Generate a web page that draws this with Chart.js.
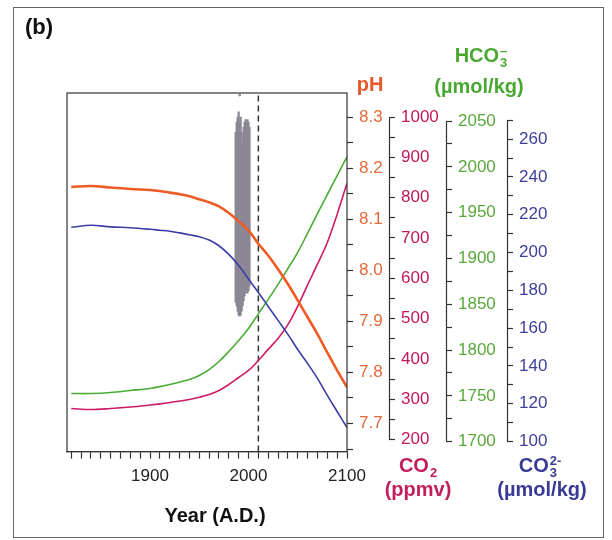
<!DOCTYPE html>
<html>
<head>
<meta charset="utf-8">
<script src="https://cdn.jsdelivr.net/npm/chart.js@4.4.1/dist/chart.umd.min.js"></script>
<style>
  body { margin: 0; background: #fff; }
  #wrap { position: relative; width: 612px; height: 540px; font-family: 'Liberation Sans', Arial, Helvetica, sans-serif; }
  #frame { position: absolute; left: 13px; top: 7px; width: 591px; height: 531px; border: 1px solid #666; box-sizing: border-box; }
  canvas { position: absolute; left: 0; top: 0; }
  .lbl { position: absolute; transform: translate(-50%, -50%); font-weight: bold; font-size: 20px; white-space: nowrap; line-height: 1; }
  .stack { display: inline-block; vertical-align: -5px; font-size: 13px; line-height: 12px; text-align: left; margin-left: 1px; }
  .stack span { display: block; }
</style>
</head>
<body>
<div id="wrap">
  <div id="frame"></div>
  <canvas id="chart" width="612" height="540"></canvas>
  <div class="lbl" style="left:39px; top:27px; font-size:22px; color:#111;">(b)</div>
  <div class="lbl" style="left:370px; top:84px; color:#e4582a;">pH</div>
  <div class="lbl" style="left:481px; top:57px; color:#4aa832;">HCO<span class="stack"><span>&#8211;</span><span>3</span></span></div>
  <div class="lbl" style="left:479px; top:86px; color:#4aa832;">(µmol/kg)</div>
  <div class="lbl" style="left:418px; top:467px; color:#c41d5c;">CO<span class="stack"><span>&nbsp;</span><span>2</span></span></div>
  <div class="lbl" style="left:418px; top:489px; color:#c41d5c;">(ppmv)</div>
  <div class="lbl" style="left:540px; top:467px; color:#393b96;">CO<span class="stack"><span>2-</span><span>3</span></span></div>
  <div class="lbl" style="left:542px; top:489px; color:#393b96;">(µmol/kg)</div>
  <div class="lbl" style="left:215px; top:515px; color:#111;">Year (A.D.)</div>
</div>
<script>
// Modelled surface-ocean carbonate chemistry
const years = [1820, 1840, 1860, 1880, 1900, 1910, 1920, 1930, 1940, 1950, 1960, 1970, 1980, 1990, 2000, 2010, 2020, 2030, 2040, 2050, 2060, 2070, 2080, 2090, 2100];
const pH   = [8.163, 8.165, 8.162, 8.159, 8.157, 8.155, 8.152, 8.149, 8.145, 8.139, 8.133, 8.125, 8.112, 8.096, 8.078, 8.052, 8.029, 8.002, 7.973, 7.941, 7.908, 7.875, 7.839, 7.804, 7.771];
const co2  = [277, 274.5, 277, 280.7, 285.7, 288.5, 292, 295.5, 299.4, 305, 311.8, 321.7, 336.6, 354, 371.4, 396, 423.8, 451, 485, 531, 583.6, 635, 689, 759, 836];
const hco3 = [1752.5, 1752.5, 1753.6, 1755.8, 1758, 1760, 1762.3, 1765, 1767.8, 1772.2, 1778.7, 1787.5, 1798.4, 1810.5, 1823.6, 1839.5, 1855.3, 1871.7, 1889, 1906.7, 1927.5, 1948.8, 1969.6, 1990.4, 2011];
const co3  = [213.4, 214.4, 213.6, 213.1, 212.3, 211.8, 211.3, 210.4, 209.4, 208.4, 206.6, 203.6, 199.0, 193.2, 186.0, 178.9, 171.5, 164.1, 156.7, 148.7, 141.3, 133.4, 124.4, 115.9, 107.4];

// Measured pH spread (grey band)
const obsYears = [1987, 1988, 1989, 1990, 1991, 1992, 1993, 1994, 1995, 1996, 1997, 1998, 1999, 2000, 2001];
const obsLow   = [7.937, 7.93, 7.92, 7.912, 7.91, 7.912, 7.92, 7.93, 7.94, 7.95, 7.955, 7.96, 7.955, 7.96, 7.97];
const obsHigh  = [8.27, 8.29, 8.30, 8.31, 8.29, 8.30, 8.27, 8.25, 8.28, 8.29, 8.295, 8.29, 8.295, 8.29, 8.28];
const obsOutlierYear = 1991;
const obsOutlierPH = 8.343;

const presentYear = 2010;

// axis ranges: [min, max] of the plot box, and the span that carries ticks
const X_MIN = 1815.7, X_MAX = 2100;
const PH_MIN = 7.645, PH_MAX = 8.347, PH_TICKS = [7.65, 8.3];
const CO2_MIN = 170.2, CO2_MAX = 1059.6, CO2_TICKS = [200, 1000];
const HCO3_MIN = 1689.1, HCO3_MAX = 2080.6, HCO3_TICKS = [1700, 2050];
const CO3_MIN = 94.7, CO3_MAX = 284.4, CO3_TICKS = [100, 270];

const FONT = "'Liberation Sans', Arial, Helvetica, sans-serif";
const tickFont = { family: FONT, size: 17 };

const series = vals => years.map((x, i) => ({ x, y: vals[i] }));

function sideAxis(min, max, span, step, every, decimals, color, width) {
    return {
        type: 'linear',
        position: 'right',
        min: min,
        max: max,
        afterBuildTicks: s => {
            s.ticks = s.ticks.filter(t => t.value >= span[0] - 1e-6 && t.value <= span[1] + 1e-6);
        },
        afterFit: s => { s.width = width; },
        border: { display: false },
        grid: { drawOnChartArea: false, drawTicks: true, tickLength: 6, tickColor: '#333', tickWidth: 1.2 },
        ticks: {
            stepSize: step,
            autoSkip: false,
            includeBounds: false,
            padding: 6,
            color: color,
            font: tickFont,
            callback: v => {
                const r = v / every;
                return Math.abs(r - Math.round(r)) < 1e-6 ? v.toFixed(decimals) : '';
            }
        }
    };
}

// box round the plot and the detached axis spines
const framePlugin = {
    id: 'frame',
    afterDraw(chart) {
        const { ctx, chartArea: a } = chart;
        ctx.save();
        ctx.strokeStyle = '#333';
        ctx.lineWidth = 1.2;
        ctx.strokeRect(a.left, a.top, a.right - a.left, a.bottom - a.top);
        ['co2', 'hco3', 'co3'].forEach(id => {
            const s = chart.scales[id];
            const t = s.ticks;
            const x = Math.round(s.left) + 0.5;
            ctx.beginPath();
            ctx.moveTo(x, s.getPixelForValue(t[0].value));
            ctx.lineTo(x, s.getPixelForValue(t[t.length - 1].value));
            ctx.stroke();
        });
        ctx.restore();
    }
};

const ctx = document.getElementById('chart').getContext('2d');

new Chart(ctx, {
    type: 'line',
    data: {
        datasets: [
            {
                label: 'pH',
                data: series(pH),
                yAxisID: 'ph',
                borderColor: '#ee5b25',
                borderWidth: 2.6,
                pointRadius: 0,
                tension: 0.35,
                order: 1
            },
            {
                label: 'CO3',
                data: series(co3),
                yAxisID: 'co3',
                borderColor: '#3a3da6',
                borderWidth: 1.6,
                pointRadius: 0,
                tension: 0.35,
                order: 1
            },
            {
                label: 'HCO3',
                data: series(hco3),
                yAxisID: 'hco3',
                borderColor: '#4aac36',
                borderWidth: 1.6,
                pointRadius: 0,
                tension: 0.35,
                order: 1
            },
            {
                label: 'CO2',
                data: series(co2),
                yAxisID: 'co2',
                borderColor: '#cd1b66',
                borderWidth: 1.6,
                pointRadius: 0,
                tension: 0.35,
                order: 1
            },
            {
                type: 'bar',
                label: 'observed pH',
                data: obsYears.map((x, i) => ({ x, y: [obsLow[i], obsHigh[i]] })),
                yAxisID: 'ph',
                backgroundColor: '#8b8794',
                barThickness: 1.6,
                grouped: false,
                order: 5
            },
            {
                label: 'observed pH outlier',
                data: [{ x: obsOutlierYear, y: obsOutlierPH }],
                yAxisID: 'ph',
                showLine: false,
                pointRadius: 1.4,
                pointBackgroundColor: '#8b8794',
                pointBorderWidth: 0,
                order: 5
            },
            {
                label: 'present',
                data: [{ x: presentYear, y: PH_MIN }, { x: presentYear, y: PH_MAX }],
                yAxisID: 'ph',
                borderColor: '#333',
                borderWidth: 1.5,
                borderDash: [6, 4],
                pointRadius: 0,
                order: 2
            }
        ]
    },
    options: {
        responsive: false,
        animation: false,
        layout: {
            padding: { left: 67, top: 93, right: 43, bottom: 45 }
        },
        plugins: {
            legend: { display: false },
            tooltip: { enabled: false }
        },
        scales: {
            x: {
                type: 'linear',
                position: 'bottom',
                min: X_MIN,
                max: X_MAX,
                offset: false,
                border: { display: true, color: '#333', width: 1.2 },
                grid: { offset: false, drawOnChartArea: false, tickLength: 7, tickColor: '#333', tickWidth: 1.2 },
                ticks: {
                    stepSize: 10,
                    autoSkip: false,
                    includeBounds: false,
                    maxRotation: 0,
                    padding: 8,
                    color: '#222',
                    font: tickFont,
                    callback: v => (Math.round(v) % 100 === 0 ? String(Math.round(v)) : '')
                }
            },
            ph:   sideAxis(PH_MIN, PH_MAX, PH_TICKS, 0.05, 0.1, 1, '#e5693a', 42),
            co2:  sideAxis(CO2_MIN, CO2_MAX, CO2_TICKS, 50, 100, 0, '#c2185b', 57),
            hco3: sideAxis(HCO3_MIN, HCO3_MAX, HCO3_TICKS, 25, 50, 0, '#5aa83c', 61),
            co3:  sideAxis(CO3_MIN, CO3_MAX, CO3_TICKS, 10, 20, 0, '#3d3f99', 62)
        }
    },
    plugins: [framePlugin]
});
</script>
</body>
</html>
